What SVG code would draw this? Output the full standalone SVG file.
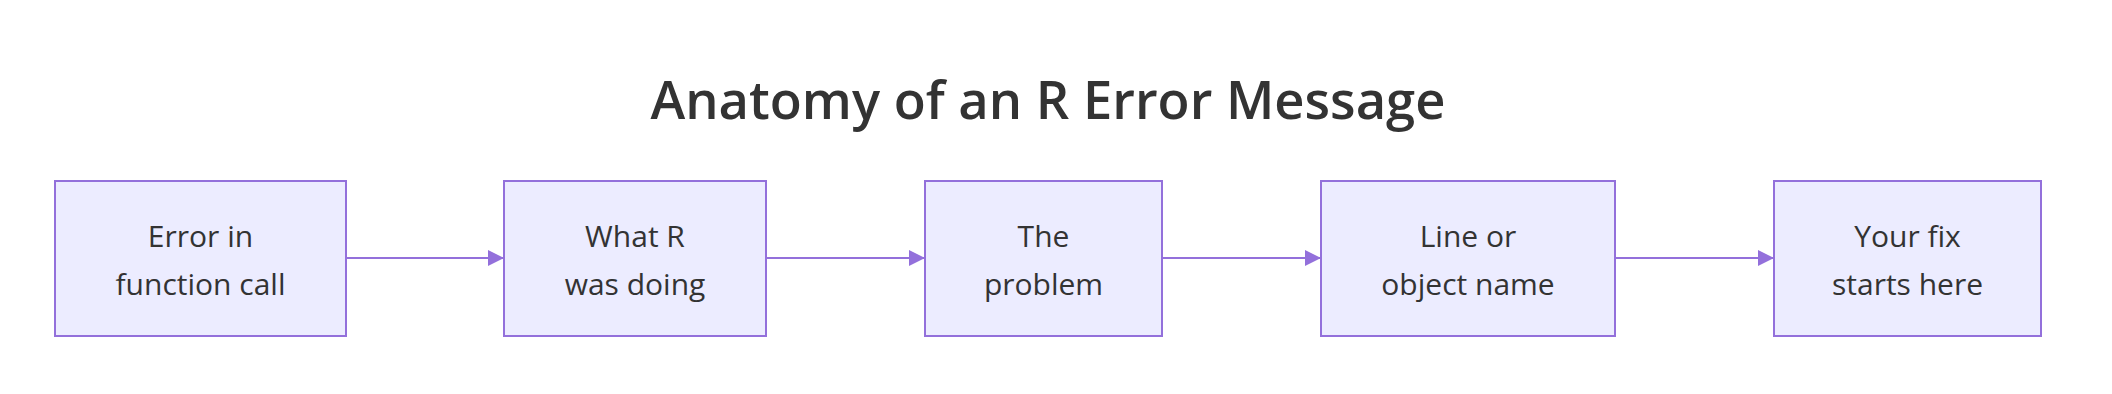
<svg xmlns="http://www.w3.org/2000/svg" width="2112" height="394" viewBox="0 0 2112 394">
<style>
.bg{fill:#ffffff}
.title{font-family:"Open Sans","Noto Sans","Liberation Sans",sans-serif;font-size:52.5px;font-weight:600;fill:#333333;text-anchor:middle}
.node rect{fill:#ECECFF;stroke:#9370DB;stroke-width:2}
.node text{font-family:"Open Sans","Noto Sans","Liberation Sans",sans-serif;font-size:30px;fill:#333333;text-anchor:middle}
.edge{stroke:#9370DB;stroke-width:2;fill:none}
</style>
<defs>
<marker id="arrow" viewBox="0 0 10 10" refX="10" refY="5" markerUnits="userSpaceOnUse" markerWidth="16" markerHeight="16" orient="auto">
<path d="M0,0 L10,5 L0,10 z" fill="#9370DB"/>
</marker>
</defs>
<rect class="bg" x="0" y="0" width="2112" height="394"/>
<text class="title" x="1048" y="119">Anatomy of an R Error Message</text>
<g id="connectors">
<line class="edge" x1="346" y1="258" x2="504" y2="258" marker-end="url(#arrow)"/>
<line class="edge" x1="766" y1="258" x2="925" y2="258" marker-end="url(#arrow)"/>
<line class="edge" x1="1162" y1="258" x2="1321" y2="258" marker-end="url(#arrow)"/>
<line class="edge" x1="1615" y1="258" x2="1774" y2="258" marker-end="url(#arrow)"/>
</g>
<g id="node1" class="node">
<rect x="55" y="181" width="291" height="155"/>
<text x="200.5" y="247">Error in</text>
<text x="200.5" y="295">function call</text>
</g>
<g id="node2" class="node">
<rect x="504" y="181" width="262" height="155"/>
<text x="635" y="247">What R</text>
<text x="635" y="295">was doing</text>
</g>
<g id="node3" class="node">
<rect x="925" y="181" width="237" height="155"/>
<text x="1043.5" y="247">The</text>
<text x="1043.5" y="295">problem</text>
</g>
<g id="node4" class="node">
<rect x="1321" y="181" width="294" height="155"/>
<text x="1468" y="247">Line or</text>
<text x="1468" y="295">object name</text>
</g>
<g id="node5" class="node">
<rect x="1774" y="181" width="267" height="155"/>
<text x="1907.5" y="247">Your fix</text>
<text x="1907.5" y="295">starts here</text>
</g>
</svg>
